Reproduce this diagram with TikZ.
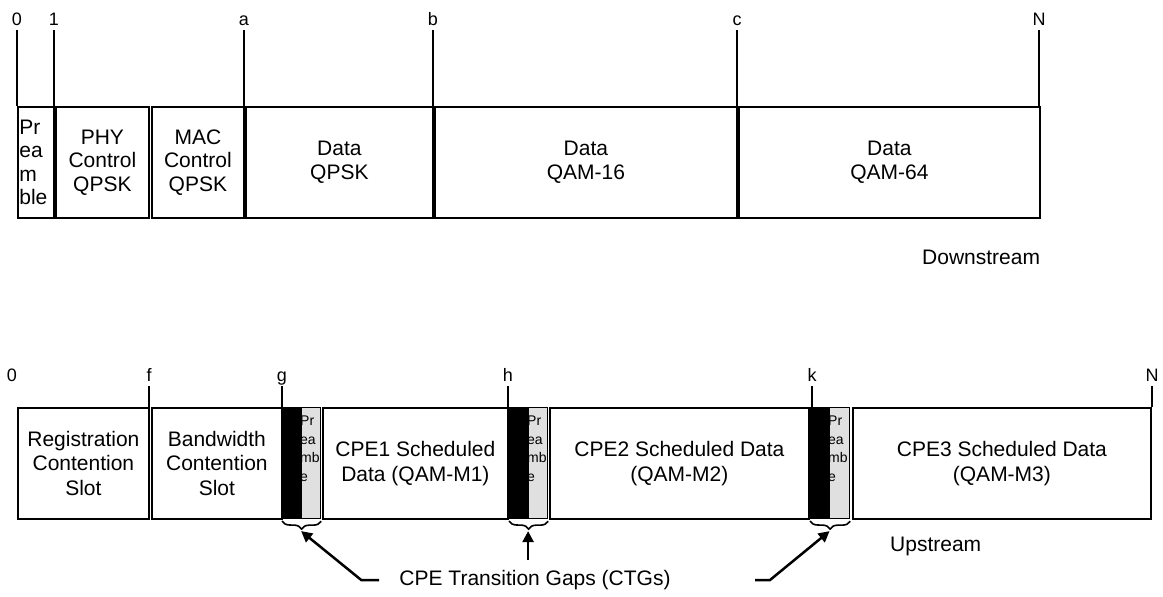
\documentclass[tikz,border=0pt]{standalone}
\usepackage{fontspec}
\setmainfont{Liberation Sans}
\usetikzlibrary{arrows.meta,decorations.pathreplacing,calc}

\begin{document}
\begin{tikzpicture}[x=1pt,y=-1pt,
  frame/.style={draw, line width=1.8pt, inner sep=0pt, anchor=north west,
    align=center, font=\fontsize{21}{23.5}\selectfont},
  upframe/.style={frame, font=\fontsize{21}{24.5}\selectfont},
  tickline/.style={line width=2pt},
  ticklabel/.style={font=\fontsize{18}{22}\selectfont, inner sep=0pt,
    anchor=base, text height=13pt, text depth=0pt},
  gapblk/.style={fill=black, draw=black, line width=1pt, inner sep=0pt,
    anchor=north west, minimum height=111pt},
  pregray/.style={fill=black!12, draw=black, line width=1.2pt, inner sep=0pt,
    anchor=north west, minimum height=111pt},
  pretext/.style={anchor=north west, align=left, inner sep=0pt,
    font=\fontsize{14}{18.5}\selectfont},
  ctgbrace/.style={decorate, decoration={brace, mirror, amplitude=8pt, aspect=0.5},
    line width=1.6pt},
  ctgarrow/.style={line width=2.5pt, -{Triangle[length=11pt,width=11pt]}},
  caption/.style={font=\fontsize{21}{24}\selectfont, inner sep=0pt},
]
\useasboundingbox (0,0) rectangle (1163,597);

% ---------------- downstream frame ----------------
\node[frame, minimum width=36pt, minimum height=111pt, text width=33pt, align=left]
  (pre) at (17,106) {Pr\\ea\\m\\ble};
\node[frame, minimum width=93pt,  minimum height=111pt] (phy) at (55,106)  {PHY\\Control\\QPSK};
\node[frame, minimum width=92pt,  minimum height=111pt] (mac) at (151,106) {MAC\\Control\\QPSK};
\node[frame, minimum width=187pt, minimum height=111pt] (dq)  at (245,106) {Data\\QPSK};
\node[frame, minimum width=302pt, minimum height=111pt] (d16) at (434,106) {Data\\QAM-16};
\node[frame, minimum width=301pt, minimum height=111pt] (d64) at (738,106) {Data\\QAM-64};

% symbol positions along the downstream frame
\foreach \nm/\lx/\tx in {dz/17/0, done/54/1, da/244/a, db/433/b, dc/737/c, dn/1039/N}{
  \node[ticklabel] (\nm) at (\lx,25) {\tx};
  \draw[tickline] ($(\nm.base)+(0,5)$) -- (\nm.base |- pre.north);
}

\node[caption, anchor=west] (dslabel) at (922,257) {Downstream};

% ---------------- upstream frame ----------------
\node[upframe, minimum width=131pt, minimum height=111pt] (reg) at (17,407)
  {Registration\\Contention\\Slot};
\node[upframe, minimum width=130pt, minimum height=111pt] (bw) at (151,407)
  {Bandwidth\\Contention\\Slot};

% transition gap 1
\node[gapblk, minimum width=20pt] (blk1) at (281,407) {};
\node[pregray, minimum width=19pt] (gry1) at (301,407) {};
\node[upframe, minimum width=185pt, minimum height=111pt] (cpe1) at (322,407)
  {CPE1 Scheduled\\Data (QAM-M1)};

% transition gap 2
\node[gapblk, minimum width=20pt] (blk2) at (508,407) {};
\node[pregray, minimum width=19pt] (gry2) at (528,407) {};
\node[upframe, minimum width=259pt, minimum height=111pt] (cpe2) at (549,407)
  {CPE2 Scheduled Data\\(QAM-M2)};

% transition gap 3
\node[gapblk, minimum width=20pt] (blk3) at (809,407) {};
\node[pregray, minimum width=20pt] (gry3) at (829,407) {};
\node[upframe, minimum width=298pt, minimum height=111pt] (cpe3) at (852,407)
  {CPE3 Scheduled Data\\(QAM-M3)};

% preamble text squeezed into the narrow grey slots
\foreach \g in {gry1,gry2,gry3}{
  \begin{scope}
    \clip (\g.north west) rectangle (\g.south east);
    \node[pretext] at ($(\g.north west)+(-1,9)$) {Pr\\ea\\mb\\e};
  \end{scope}
}

% symbol positions along the upstream frame
\node[ticklabel] (uz) at (12,381) {0};
\foreach \nm/\lx/\tx in {uf/149/f, ug/282/g, uh/508/h, uk/812/k, un/1152/N}{
  \node[ticklabel] (\nm) at (\lx,381) {\tx};
  \draw[tickline] ($(\nm.base)+(0,5)$) -- (\nm.base |- reg.north);
}

\node[caption, anchor=west] (uslabel) at (890,546) {Upstream};

% braces under the transition gaps
\foreach \i in {1,2,3}{
  \draw[ctgbrace] ($(blk\i.south west)+(1,2)$) -- ($(gry\i.south east)+(0,2)$);
  \coordinate (tip\i) at ($(blk\i.south west)!0.5!(gry\i.south east)+(0,12)$);
}

% caption and pointers
\node[caption] (ctg) at (535,580) {CPE Transition Gaps (CTGs)};
\coordinate (a1s) at ($(ctg.west)+(-20,0)$);
\coordinate (a1b) at ($(ctg.west)+(-38,0)$);
\coordinate (a2s) at (tip2 |- 0,560);
\coordinate (a3s) at (755,580);
\coordinate (a3b) at (770,580);
\draw[ctgarrow] (a1s) -- (a1b) -- (tip1);
\draw[ctgarrow] (a2s) -- (tip2);
\draw[ctgarrow] (a3s) -- (a3b) -- (tip3);
\end{tikzpicture}
\end{document}
